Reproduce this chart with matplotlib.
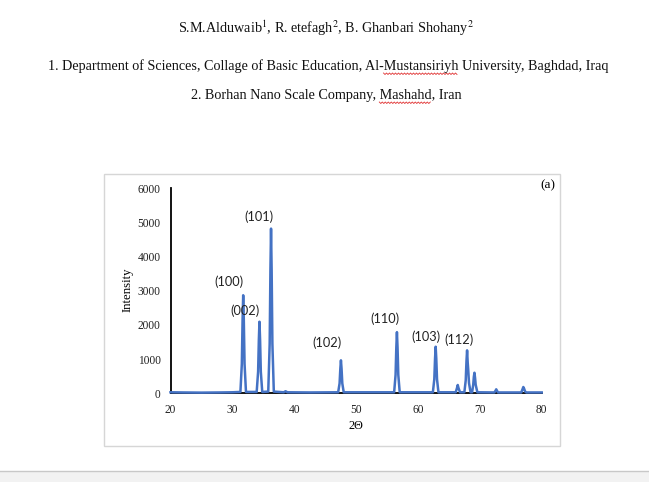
import numpy as np
import matplotlib
matplotlib.use("Agg")
import matplotlib.pyplot as plt
from matplotlib.patches import Rectangle
from matplotlib.lines import Line2D

# XRD pattern (2theta, intensity)
two_theta = [20, 22, 25, 28, 30,
             31.3, 31.53, 31.65, 31.75, 31.85, 31.97, 32.2,
             33.93, 34.16, 34.28, 34.38, 34.48, 34.6, 34.83,
             35.8, 36.03, 36.15, 36.25, 36.35, 36.47, 36.7,
             38.3, 38.6, 38.9, 42.5,
             47.1, 47.33, 47.45, 47.55, 47.65, 47.77, 48.0,
             56.15, 56.38, 56.5, 56.6, 56.7, 56.82, 57.05,
             62.41, 62.64, 62.76, 62.86, 62.96, 63.08, 63.31,
             66.1, 66.3, 66.43, 66.56, 66.8,
             67.5, 67.72, 67.84, 67.94, 68.04, 68.12, 68.25, 68.5,
             68.75, 68.93, 69.03, 69.13, 69.23, 69.33, 69.6,
             72.35, 72.55, 72.65, 72.75, 72.95,
             76.7, 76.9, 77.03, 77.15, 77.3, 77.5, 80]
intensity = [30, 25, 20, 25, 30,
             40, 860, 2150, 2870, 2150, 860, 40,
             40, 630, 1570, 2095, 1570, 630, 40,
             50, 1450, 3600, 4820, 3600, 1450, 50,
             30, 60, 30, 25,
             30, 290, 720, 965, 720, 290, 30,
             30, 540, 1340, 1790, 1340, 540, 30,
             30, 410, 1020, 1363, 1020, 410, 30,
             30, 150, 243, 150, 30,
             30, 380, 940, 1257, 900, 700, 300, 30,
             30, 250, 480, 602, 450, 250, 30,
             25, 80, 117, 80, 25,
             25, 120, 184, 140, 60, 25, 25]

peak_labels = ["(100)", "(002)", "(101)", "(102)", "(110)", "(103)", "(112)"]
label_x = [29.4, 32.0, 34.3, 45.3, 54.7, 61.35, 66.7]
label_y = [3270, 2430, 5160, 1480, 2170, 1650, 1560]

W, H = 649, 482
fig = plt.figure(figsize=(W / 100, H / 100), dpi=100)

def fx(px):
    return px / W

def fy(py):
    return 1 - py / H

serif = "Liberation Serif"
plt.rcParams["mathtext.fontset"] = "stix"
hdr = dict(ha="center", va="center", family=serif, fontsize=10.2, color="#111111")

line1 = r"S.M.Alduwaib$^{1}$, R. etefagh$^{2}$, B. Ghanbari Shohany$^{2}$"
line2 = "1. Department of Sciences, Collage of Basic Education, Al-Mustansiriyh University, Baghdad, Iraq"
line3 = "2. Borhan Nano Scale Company, Mashahd, Iran"
fig.text(fx(326), fy(28), line1, **hdr)
t2 = fig.text(fx(328), fy(66), line2, **hdr)
t3 = fig.text(fx(326), fy(95), line3, **hdr)

# red spell-check squiggles under a word, measured from the rendered text
renderer = fig.canvas.get_renderer()

def text_width(s):
    tmp = fig.text(0, 0, s, family=serif, fontsize=10.2)
    w = tmp.get_window_extent(renderer).width
    tmp.remove()
    return w

def squiggle(t, text, word, y):
    bb = t.get_window_extent(renderer)
    i = text.index(word)
    x0 = bb.x0 + text_width(text[:i] + "x") - text_width("x")
    x1 = x0 + text_width(word)
    xs = np.arange(x0, x1, 1.5)
    ys = H - y - np.where(np.arange(len(xs)) % 2 == 0, 0, 1.5)
    fig.add_artist(Line2D(xs / W, ys / H, transform=fig.transFigure,
                          color="#e03030", lw=0.6))

squiggle(t2, line2, "Mustansiriyh", 73)
squiggle(t3, line3, "Mashahd", 102)

# chart frame
fig.add_artist(Rectangle((fx(103.5), fy(445.5)), fx(560) - fx(103.5), fy(174) - fy(445.5),
                         transform=fig.transFigure, facecolor="white",
                         edgecolor="#d6d6d6", lw=1.0, zorder=0))

# bottom grey bar
fig.add_artist(Rectangle((0, 0), 1, fy(470.5), transform=fig.transFigure,
                         facecolor="#f2f2f2", edgecolor="none", zorder=0))
fig.add_artist(Line2D([0, 1], [fy(470.5), fy(470.5)], transform=fig.transFigure,
                      color="#c8c8c8", lw=1.0))

ax = fig.add_axes([fx(170.5), fy(393.3), fx(541.7) - fx(170.5), fy(188.3) - fy(393.3)])
ax.set_facecolor("none")
ax.plot(two_theta, intensity, color="#4472c4", lw=1.8, zorder=3, clip_on=False)

ax.set_xlim(20, 80)
ax.set_ylim(0, 6000)
ax.set_xticks(range(20, 81, 10))
ax.set_yticks(range(0, 6001, 1000))
ax.tick_params(length=0, labelsize=8.3, labelcolor="#222222", pad=7)
ax.tick_params(axis="x", pad=8)
for lab in ax.get_xticklabels() + ax.get_yticklabels():
    lab.set_family(serif)

for s in ["top", "right"]:
    ax.spines[s].set_visible(False)
for s in ["left", "bottom"]:
    ax.spines[s].set_color("black")
    ax.spines[s].set_linewidth(1.3)

for t, x, y in zip(peak_labels, label_x, label_y):
    ax.text(x, y, t, ha="center", va="center", family="Lato", fontsize=9.2, color="#222222")

ax.set_xlabel("2Θ", family=serif, fontsize=8.8)
ax.xaxis.set_label_coords((355.5 - 170.5) / 371.2, -(420 - 393.3) / 205)
ax.set_ylabel("Intensity", family=serif, fontsize=9.2)
ax.yaxis.set_label_coords((133.5 - 170.5) / 371.2, (393.3 - 290) / 205)
fig.text(fx(548), fy(185), "(a)", ha="center", va="center", family=serif, fontsize=9.5)

fig.savefig("out.png", dpi=100)
